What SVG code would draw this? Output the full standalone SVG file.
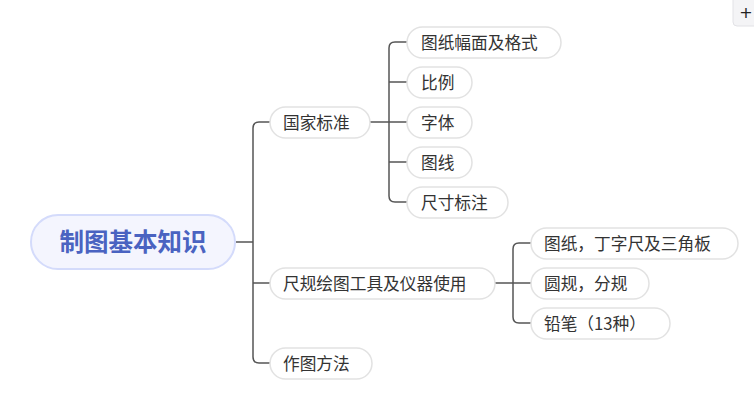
<svg xmlns="http://www.w3.org/2000/svg" width="754" height="401" viewBox="0 0 754 401">
<style>
.n rect{fill:#fff;stroke:#e2e2e2;stroke-width:1.5}
.n text{font-family:"Noto Sans CJK SC","Microsoft YaHei",sans-serif;font-size:16.7px;fill:#333}
.c path{fill:none;stroke:#555;stroke-width:1.5}
</style>
<rect width="754" height="401" fill="#fff"/>
<g id="zoom-btn">
<rect x="733" y="-6" width="30" height="32" rx="4" fill="#f4f4f6" stroke="#e2e2e6"/>
<text x="746" y="18" font-family="'DejaVu Sans',sans-serif" font-size="16" fill="#222" text-anchor="middle">+</text>
</g>
<g class="c" id="connectors">
<path d="M236 242H253"/>
<path d="M270 122H259Q253 122 253 128V357Q253 363 259 363H270"/>
<path d="M253 283Q253 283 259 283H270"/>
<path d="M370 122H407"/>
<path d="M407 42H395Q389 42 389 48V196Q389 202 395 202H407"/>
<path d="M389 82H407M389 162H407"/>
<path d="M495 283H531"/>
<path d="M531 243H519Q513 243 513 249V317Q513 323 519 323H531"/>
</g>
<g id="root">
<rect x="31" y="215" width="204" height="54" rx="27" fill="#f4f5fe" stroke="#d4dbfb" stroke-width="2"/>
<text x="133" y="251" font-family="'Noto Sans CJK SC',sans-serif" font-size="24.5" font-weight="bold" fill="#4a63c1" text-anchor="middle">制图基本知识</text>
</g>
<g class="n" id="n1"><rect x="270" y="107" width="100" height="31" rx="15.5"/><text x="283" y="128.5">国家标准</text></g>
<g class="n" id="n2"><rect x="270" y="268" width="225" height="31" rx="15.5"/><text x="283" y="289.5">尺规绘图工具及仪器使用</text></g>
<g class="n" id="n3"><rect x="270" y="348" width="102" height="31" rx="15.5"/><text x="283" y="369.5">作图方法</text></g>
<g class="n" id="n11"><rect x="407" y="27" width="154" height="31" rx="15.5"/><text x="421" y="48.5">图纸幅面及格式</text></g>
<g class="n" id="n12"><rect x="407" y="67" width="65" height="31" rx="15.5"/><text x="421" y="88.5">比例</text></g>
<g class="n" id="n13"><rect x="407" y="107" width="65" height="31" rx="15.5"/><text x="421" y="128.5">字体</text></g>
<g class="n" id="n14"><rect x="407" y="147" width="65" height="31" rx="15.5"/><text x="421" y="168.5">图线</text></g>
<g class="n" id="n15"><rect x="407" y="187" width="101" height="31" rx="15.5"/><text x="421" y="208.5">尺寸标注</text></g>
<g class="n" id="n21"><rect x="531" y="228" width="207" height="31" rx="15.5"/><text x="544" y="249.5">图纸，丁字尺及三角板</text></g>
<g class="n" id="n22"><rect x="531" y="268" width="118" height="31" rx="15.5"/><text x="544" y="289.5">圆规，分规</text></g>
<g class="n" id="n23"><rect x="531" y="308" width="139" height="31" rx="15.5"/><text x="544" y="329.5">铅笔（13种）</text></g>
</svg>
